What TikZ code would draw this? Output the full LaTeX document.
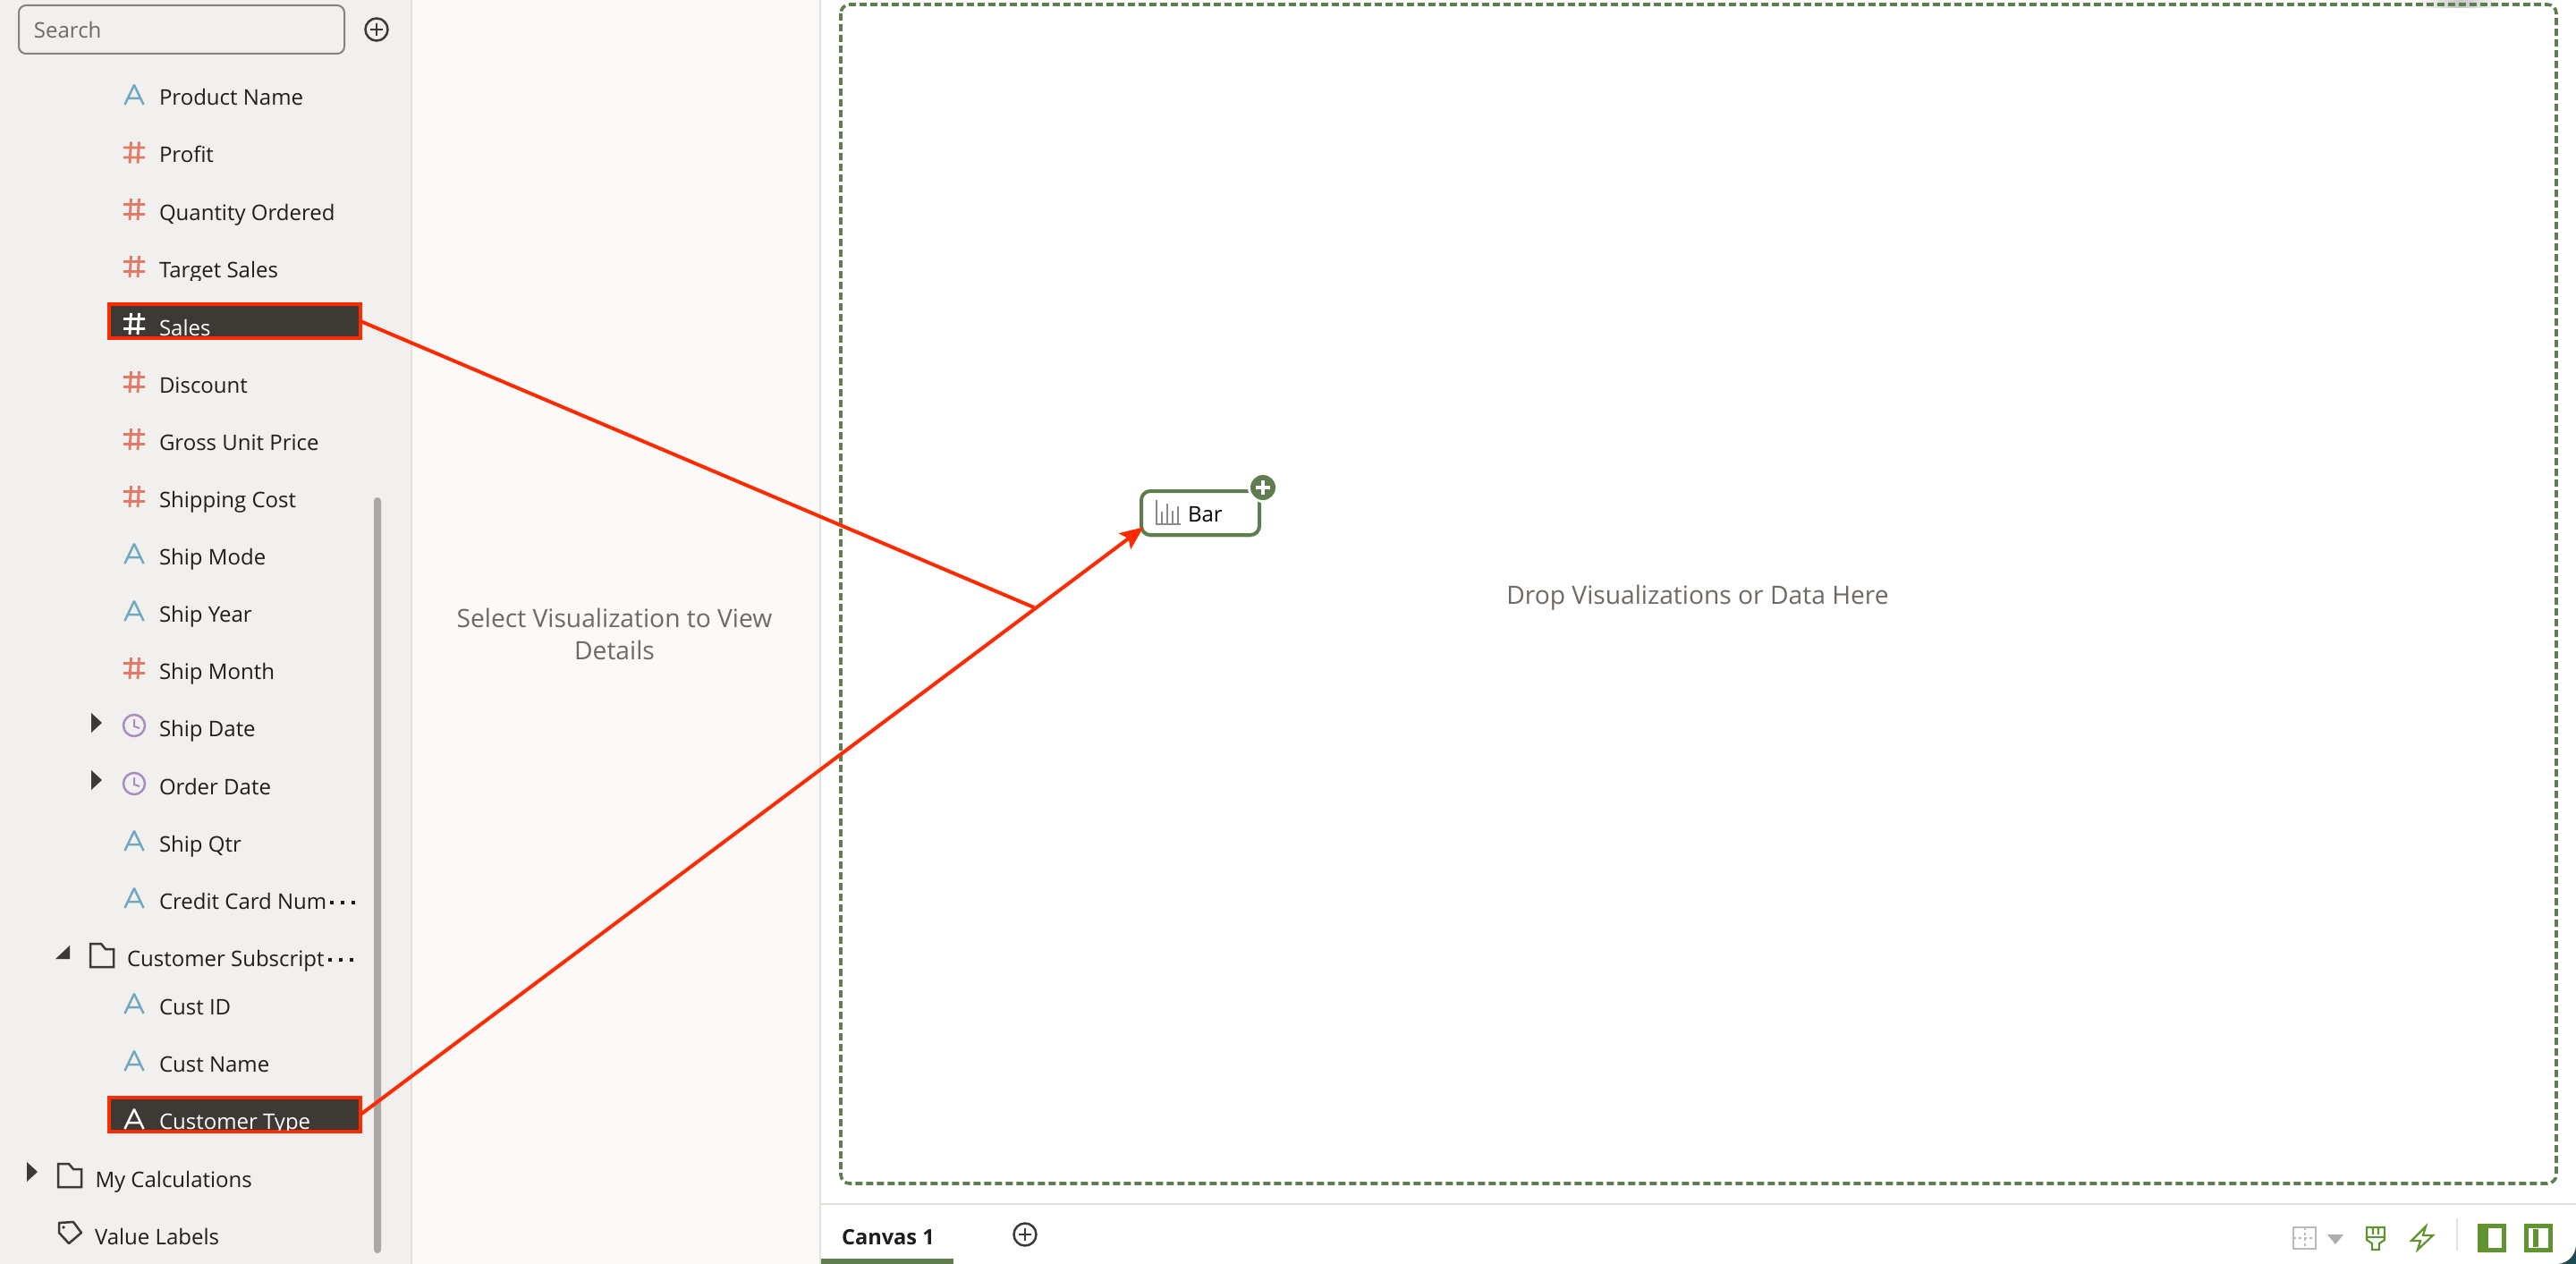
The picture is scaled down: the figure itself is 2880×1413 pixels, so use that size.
\documentclass[tikz,border=0pt]{standalone}
\usepackage{fontspec}
\setmainfont{Open Sans}
\usetikzlibrary{arrows.meta,shadows}
\definecolor{panel}{HTML}{F1F0EE}
\definecolor{midpanel}{HTML}{FBFAF9}
\definecolor{sepline}{HTML}{E2E1DC}
\definecolor{corner}{HTML}{1E4A50}
\definecolor{ink}{HTML}{201E1C}
\definecolor{dark}{HTML}{3D3A35}
\definecolor{attr}{HTML}{6FA8C0}
\definecolor{meas}{HTML}{E07B68}
\definecolor{timec}{HTML}{A98DC0}
\definecolor{olive}{HTML}{5F7D4F}
\definecolor{leaf}{HTML}{5F9430}
\definecolor{redc}{HTML}{FF2A00}
\definecolor{greytext}{HTML}{6F6962}
\tikzset{
  x=0.5pt,y=-0.5pt,
  lbl/.style={anchor=base west,inner sep=0,outer sep=0,font=\fontsize{12}{14}\selectfont,text=ink},
  wlbl/.style={lbl,text=white},
  hibox/.style={draw=redc,fill=dark,line width=2pt,minimum width=140.5pt,minimum height=19pt,inner sep=0,outer sep=0},
  icon/.style={line width=1.25pt,line join=miter},
  hicon/.style={line width=1.45pt},
  plusc/.style={line width=1.25pt,draw=dark},
  redline/.style={draw=redc,line width=2pt},
}
\newcommand{\iconA}[2]{\begin{scope}[shift={(150,#1)}]\draw[icon,color=#2,line join=bevel] (-10.5,0)--(0,-22)--(10.5,0) (-6.5,-7)--(6.5,-7);\end{scope}}
\newcommand{\iconH}[2]{\begin{scope}[shift={(150,#1)}]\draw[hicon,color=#2] (-12,-5.5)--(12,-5.5) (-12,5.5)--(12,5.5) (-5,12)--(-3.5,-12) (4,12)--(5.5,-12);\end{scope}}
\newcommand{\iconC}[1]{\begin{scope}[shift={(150,#1)}]\draw[icon,color=timec] (0,0) circle[radius=12];\draw[icon,color=timec,line width=1pt] (0,-7)--(0,1)--(6,3);\end{scope}}
\newcommand{\iconF}[2]{\begin{scope}[shift={(#1,#2)}]\draw[icon,color=dark] (0,0)--(12,0)--(17,6)--(26,6)--(26,26)--(0,26)--cycle;\end{scope}}
\newcommand{\tright}[2]{\fill[dark] (#1,#2)--(#1+12,#2+11)--(#1,#2+22)--cycle;}
\newcommand{\dotsq}[2]{\fill[ink] (#1,#2) rectangle ++(3.5,3.5);\fill[ink] (#1+12,#2) rectangle ++(3.5,3.5);\fill[ink] (#1+24,#2) rectangle ++(3.5,3.5);}
\begin{document}
\begin{tikzpicture}
\useasboundingbox (0,0) rectangle (2880,1413);
% frame and panels
\fill[corner] (0,1360) rectangle (2880,1413);
\fill[panel] (0,0) -- (462,0) -- (462,1413) -- (22,1413) arc[start angle=270,end angle=180,radius=22] -- cycle;
\fill[midpanel] (460,0) rectangle (918,1413);
\fill[white] (917,0) -- (2880,0) -- (2880,1391) arc[start angle=0,end angle=90,radius=22] -- (917,1413) -- cycle;
\draw[sepline,line width=1pt] (460,0)--(460,1413);
\draw[sepline,line width=1pt] (917,0)--(917,1413);
\draw[sepline,line width=1pt] (918,1346)--(2880,1346);
% canvas area
\shade[left color=white,right color=white,middle color=black!22] (2700,0) rectangle (2800,9);
\draw[olive,line width=1.8pt,dash pattern=on 4pt off 2pt,rounded corners=5pt] (940,5) rectangle (2858,1323);
% search
\node[draw=black!45!panel,line width=1pt,rounded corners=4pt,minimum width=182pt,minimum height=27pt,inner sep=0,outer sep=0] (searchbox) at (203,33) {};
\node[lbl,text=greytext] (searchtxt) at (38,43) {Search};
\draw[plusc] (421,33) circle[radius=12.5];
\draw[plusc] (414,33)--(428,33) (421,26)--(421,40);
% field list
\node[lbl] (f1) at (178,118) {Product Name};\iconA{117}{attr}
\node[lbl] (f2) at (178,182) {Profit};\iconH{170.5}{meas}
\node[lbl] (f3) at (178,246.5) {Quantity Ordered};\iconH{234}{meas}
\begin{scope}\clip (170,280) rectangle (400,313);
\node[lbl] (f4) at (178,310.5) {Target Sales};\end{scope}
\iconH{298}{meas}
\node[hibox] (salesbox) at (262.5,359) {};
\begin{scope}\clip (124,342) rectangle (401,376);
\node[wlbl] (f5) at (178,375) {Sales};\end{scope}
\iconH{362}{white}
\node[lbl] (f6) at (178,439) {Discount};\iconH{427}{meas}
\node[lbl] (f7) at (178,503) {Gross Unit Price};\iconH{491}{meas}
\node[lbl] (f8) at (178,567) {Shipping Cost};\iconH{555}{meas}
\node[lbl] (f9) at (178,631) {Ship Mode};\iconA{630}{attr}
\node[lbl] (f10) at (178,695) {Ship Year};\iconA{694}{attr}
\node[lbl] (f11) at (178,759) {Ship Month};\iconH{747}{meas}
\node[lbl] (f12) at (178,823) {Ship Date};\iconC{811}\tright{102}{797}
\node[lbl] (f13) at (178,888) {Order Date};\iconC{876}\tright{102}{861}
\node[lbl] (f14) at (178,952) {Ship Qtr};\iconA{951}{attr}
\node[lbl] (f15) at (178,1016) {Credit Card Num};\iconA{1015}{attr}
\dotsq{369}{1007}
\fill[dark] (62,1072)--(78,1072)--(78,1057)--cycle;
\iconF{101}{1055}
\node[lbl] (f16) at (142,1080) {Customer Subscript};
\dotsq{367}{1071}
\node[lbl] (f17) at (178,1134) {Cust ID};\iconA{1133}{attr}
\node[lbl] (f18) at (178,1198) {Cust Name};\iconA{1197}{attr}
\node[hibox] (typebox) at (262.5,1246) {};
\begin{scope}\clip (124,1229) rectangle (401,1263);
\node[wlbl] (f19) at (178,1262) {Customer Type};\end{scope}
\iconA{1262}{white}
\tright{30}{1299}\iconF{65}{1301}
\node[lbl] (f20) at (106.5,1327) {My Calculations};
\draw[icon,color=dark,line join=round] (66,1367)--(82,1366)--(91,1378)--(77,1390)--(66,1378)--cycle;
\fill[dark] (71,1372) circle[radius=1.8];
\node[lbl] (f21) at (106,1391) {Value Labels};
% scrollbar
\fill[black!30!panel,rounded corners=2pt] (418,556) rectangle (426,1401);
% middle text
\node[align=center,inner sep=0,text=greytext,font=\fontsize{14.1}{18}\selectfont] (details) at (687,709) {Select Visualization to View\\Details};
\node[inner sep=0,text=greytext,font=\fontsize{14.1}{18}\selectfont] (drop) at (1898,668) {Drop Visualizations or Data Here};
% bar node
\node[draw=olive,fill=white,line width=2pt,rounded corners=5pt,minimum width=66pt,minimum height=24.5pt,inner sep=0,outer sep=0,drop shadow={opacity=.18,shadow xshift=0pt,shadow yshift=-1.5pt}] (barbox) at (1342,573.5) {};
\draw[black!45,line width=1pt] (1293,559)--(1293,586)--(1320,586) (1299,572)--(1299,586) (1305,563)--(1305,586) (1311,571)--(1311,586) (1317,566)--(1317,586);
\node[lbl,text=black] (bartxt) at (1328,583) {Bar};
\fill[white] (1412,545) circle[radius=17];
\fill[olive] (1412,545) circle[radius=14];
\draw[white,line width=2pt] (1404,545)--(1420,545) (1412,537)--(1412,553);
% connectors
\coordinate (junction) at (1156,679);
\draw[redline] (salesbox.east) -- (junction);
\draw[redline,shorten >=-1.5pt,-{Stealth[length=13pt,width=11pt,inset=2.5pt]}] (typebox.east) -- (barbox.-165);
% bottom bar
\node[lbl,font=\fontsize{11.8}{14}\selectfont\bfseries] (canvas) at (941,1391) {Canvas 1};
\fill[olive] (918,1407) rectangle (1066,1413);
\draw[plusc] (1146,1380) circle[radius=12.5];
\draw[plusc] (1139,1380)--(1153,1380) (1146,1373)--(1146,1387);
% toolbar icons
\draw[black!27,line width=1.2pt] (2564,1372) rectangle (2589,1396);
\draw[black!27,line width=1pt,dash pattern=on 1.5pt off 1.5pt] (2577,1372)--(2577,1396) (2564,1384)--(2589,1384);
\fill[black!32] (2602,1380)--(2620,1380)--(2611,1391)--cycle;
\draw[leaf,line width=1.1pt,line join=miter] (2646,1372)--(2666,1372)--(2666,1386)--(2660,1390)--(2660,1397)--(2652,1397)--(2652,1390)--(2646,1386)--cycle (2646,1383)--(2666,1383) (2653,1372)--(2653,1380) (2659,1372)--(2659,1380);
\draw[leaf,line width=1.1pt,line join=miter] (2712,1371)--(2696,1387)--(2706,1387)--(2703,1397)--(2720,1381)--(2709,1381)--cycle;
\draw[sepline,line width=1pt] (2747,1362)--(2747,1398);
\fill[leaf] (2770,1368) rectangle (2802,1400);
\fill[white] (2782,1373) rectangle (2797,1395);
\fill[leaf] (2822,1368) rectangle (2854,1400);
\fill[white] (2827,1373) rectangle (2849,1395);
\fill[leaf] (2832,1374) rectangle (2838,1394);
\end{tikzpicture}
\end{document}
